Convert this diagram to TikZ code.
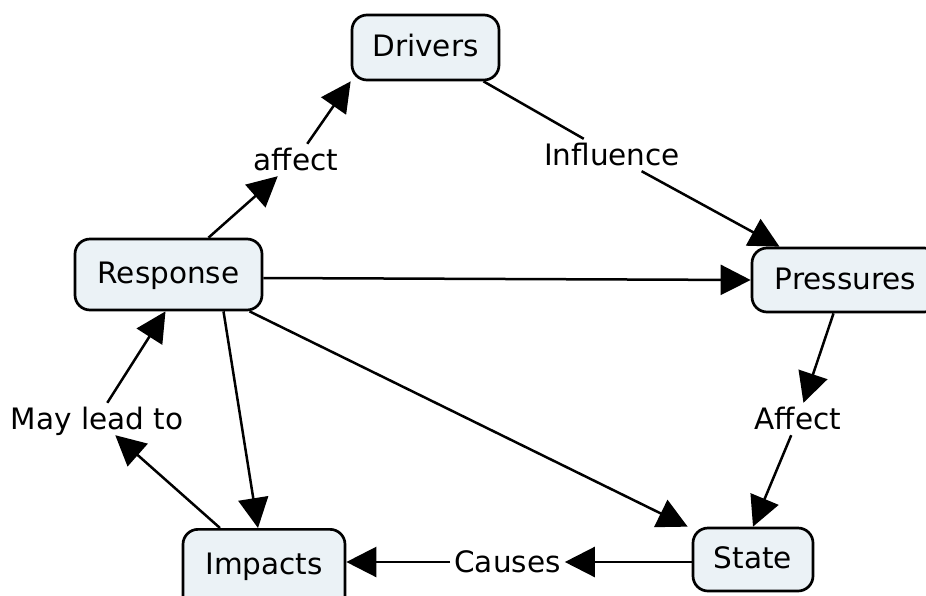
\documentclass[tikz,border=0pt]{standalone}
\usepackage{fontspec}
\setmainfont{DejaVu Sans}
\usetikzlibrary{arrows.meta}
\definecolor{conceptfill}{RGB}{235,242,246}
\begin{document}
\begin{tikzpicture}[x=1pt,y=-1pt,
  txt/.style={font=\fontsize{29.5}{35}\selectfont},
  concept/.style={txt, draw=black, line width=2.7pt, fill=conceptfill,
    rounded corners=15pt, inner sep=0pt, text height=23pt, text depth=5pt},
  linklabel/.style={txt, inner xsep=4pt, inner ysep=1pt,
    text height=25pt, text depth=5pt, anchor=base},
  conn/.style={line width=2.5pt},
  arr/.style={conn, -{Triangle[length=30pt,width=30pt]}}
]
\clip (0,0) rectangle (926,595);
\fill[white] (0,0) rectangle (926,595);

% concepts
\node[concept, minimum width=147pt, minimum height=65pt] (drv)  at (425.5,47.5) {Drivers};
\node[concept, minimum width=187pt, minimum height=71pt] (resp) at (168.5,274.5) {Response};
\node[concept, minimum width=187pt, minimum height=64pt] (pres) at (845.5,280) {Pressures};
\node[concept, minimum width=162pt, minimum height=84pt, text depth=17pt, anchor=north] (imp) at (264,528) {Impacts};
\node[concept, minimum width=120pt, minimum height=63pt] (state) at (753,559.5) {State};

% linking phrases
\node[linklabel] (aff)   at (296,170)   {affect};
\node[linklabel] (infl)  at (612,165)   {Influence};
\node[linklabel] (aff2)  at (798,429)   {Affect};
\node[linklabel] (may)   at (97,429)    {May lead to};
\node[linklabel] (cause) at (507.5,572) {Causes};

% connections
\draw[arr]  ([xshift=40pt]resp.north) -- (aff);
\draw[arr]  (aff) -- (drv.south west);
\draw[conn] ([xshift=58pt]drv.south) -- (infl);
\draw[arr]  (infl) -- ([xshift=-66pt]pres.north);
\draw[arr]  ([yshift=-3.5pt]resp.east) -- (pres.west);
\draw[arr]  ([xshift=81pt]resp.south) -- ([xshift=-4pt]state.north west);
\draw[arr]  ([xshift=55pt]resp.south) -- ([xshift=-6pt]imp.north);
\draw[arr]  ([xshift=-44pt]imp.north) -- (may);
\draw[arr]  (may) -- ([xshift=-3pt]resp.south);
\draw[arr]  ([xshift=-12pt]pres.south) -- (aff2);
\draw[arr]  (aff2) -- (state.north);
\draw[arr]  (state.west |- cause) -- (cause);
\draw[arr]  (cause) -- (imp.east |- cause);
\end{tikzpicture}
\end{document}
